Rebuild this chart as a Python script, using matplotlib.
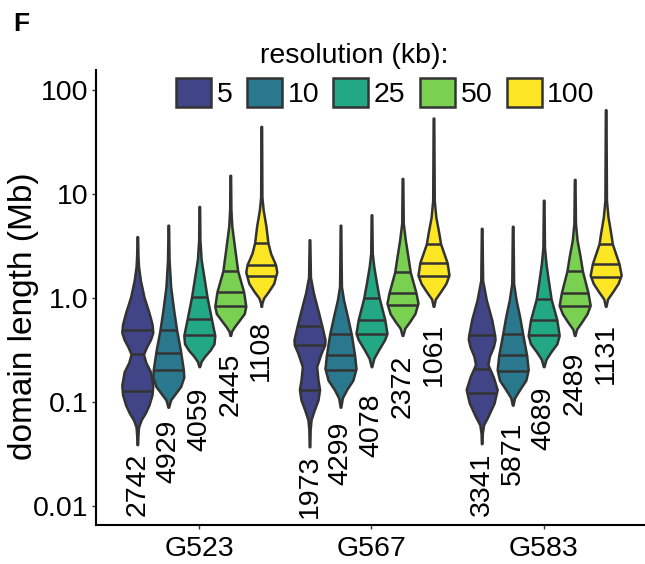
import numpy as np
import matplotlib.pyplot as plt
from matplotlib.patches import Patch

plt.rcParams["font.family"] = ["Liberation Sans", "DejaVu Sans"]

groups = ["G523", "G567", "G583"]
resolutions = ["5", "10", "25", "50", "100"]
colors = ["#414487", "#2A788E", "#22A884", "#7AD151", "#FDE725"]

# number of domains per violin
counts_g523 = [2742, 4929, 4059, 2445, 1108]
counts_g567 = [1973, 4299, 4078, 2372, 1061]
counts_g583 = [3341, 5871, 4689, 2489, 1131]

# violin outlines: log10(domain length, Mb) from max down to min, with relative density
levels_g523 = [
    [0.59, 0.41, 0.30, 0.17, 0.01, -0.14, -0.25, -0.33, -0.40, -0.47, -0.54, -0.62, -0.71, -0.84, -0.93, -1.03, -1.11, -1.17, -1.24, -1.32, -1.41],
    [0.70, 0.56, 0.37, 0.11, -0.12, -0.31, -0.50, -0.69, -0.76, -0.85, -0.92, -0.98, -1.05],
    [0.88, 0.56, 0.37, 0.20, 0.01, -0.20, -0.36, -0.44, -0.50, -0.56, -0.61, -0.66],
    [1.18, 0.85, 0.69, 0.46, 0.26, 0.06, -0.08, -0.15, -0.21, -0.28, -0.32, -0.36],
    [1.65, 0.97, 0.85, 0.69, 0.53, 0.43, 0.32, 0.25, 0.14, 0.06, 0.00, -0.05, -0.08],
]
density_g523 = [
    [0.02, 0.04, 0.08, 0.2, 0.43, 0.75, 0.95, 1.0, 0.85, 0.6, 0.4, 0.55, 0.85, 1.0, 0.95, 0.75, 0.5, 0.25, 0.08, 0.04, 0.02],
    [0.02, 0.03, 0.05, 0.15, 0.35, 0.54, 0.78, 0.97, 1.0, 0.8, 0.45, 0.15, 0.02],
    [0.02, 0.04, 0.12, 0.3, 0.5, 0.78, 1.0, 0.95, 0.7, 0.35, 0.12, 0.02],
    [0.02, 0.04, 0.1, 0.3, 0.48, 0.86, 1.0, 0.9, 0.6, 0.25, 0.08, 0.02],
    [0.02, 0.04, 0.12, 0.3, 0.43, 0.6, 0.92, 1.0, 0.8, 0.45, 0.15, 0.04, 0.02],
]
levels_g567 = [
    [0.56, 0.20, 0.05, -0.15, -0.27, -0.40, -0.45, -0.53, -0.66, -0.79, -0.88, -0.98, -1.08, -1.17, -1.27, -1.43],
    [0.70, 0.37, 0.11, -0.02, -0.18, -0.35, -0.55, -0.68, -0.79, -0.88, -0.96, -1.05],
    [0.80, 0.43, 0.30, 0.14, 0.00, -0.21, -0.34, -0.40, -0.50, -0.58, -0.66],
    [1.15, 0.72, 0.56, 0.40, 0.25, 0.05, -0.05, -0.15, -0.23, -0.29, -0.36],
    [1.73, 0.94, 0.78, 0.62, 0.52, 0.34, 0.22, 0.14, 0.06, -0.01, -0.08],
]
density_g567 = [
    [0.02, 0.06, 0.25, 0.6, 0.8, 1.0, 0.98, 0.75, 0.46, 0.55, 0.65, 0.55, 0.3, 0.1, 0.04, 0.02],
    [0.02, 0.04, 0.06, 0.2, 0.45, 0.7, 0.91, 1.0, 0.8, 0.4, 0.12, 0.02],
    [0.02, 0.05, 0.15, 0.33, 0.5, 0.86, 1.0, 0.85, 0.45, 0.15, 0.02],
    [0.02, 0.05, 0.18, 0.35, 0.5, 0.87, 1.0, 0.8, 0.45, 0.15, 0.02],
    [0.02, 0.05, 0.15, 0.35, 0.46, 0.88, 1.0, 0.8, 0.45, 0.12, 0.02],
]
levels_g583 = [
    [0.67, 0.17, -0.02, -0.21, -0.36, -0.40, -0.47, -0.56, -0.64, -0.76, -0.88, -1.01, -1.14, -1.22, -1.30, -1.40],
    [0.69, 0.41, 0.14, -0.02, -0.18, -0.35, -0.55, -0.69, -0.79, -0.88, -0.96, -1.03],
    [0.94, 0.49, 0.33, 0.17, -0.01, -0.21, -0.36, -0.44, -0.52, -0.59, -0.66],
    [1.14, 0.72, 0.56, 0.40, 0.26, 0.05, -0.07, -0.15, -0.23, -0.30, -0.36],
    [1.81, 0.94, 0.78, 0.62, 0.52, 0.33, 0.22, 0.14, 0.06, -0.01, -0.08],
]
density_g583 = [
    [0.02, 0.06, 0.3, 0.65, 0.84, 0.86, 0.75, 0.5, 0.4, 0.75, 1.0, 0.8, 0.4, 0.12, 0.04, 0.02],
    [0.02, 0.04, 0.06, 0.22, 0.45, 0.65, 0.9, 1.0, 0.85, 0.45, 0.12, 0.02],
    [0.02, 0.05, 0.15, 0.3, 0.48, 0.85, 1.0, 0.85, 0.45, 0.15, 0.02],
    [0.02, 0.05, 0.15, 0.35, 0.5, 0.86, 1.0, 0.8, 0.45, 0.12, 0.02],
    [0.02, 0.05, 0.15, 0.33, 0.43, 0.86, 1.0, 0.8, 0.45, 0.12, 0.02],
]

# quartiles (log10 Mb): Q3, median, Q1
quartiles_g523 = [[-0.31, -0.54, -0.89], [-0.31, -0.53, -0.69], [0.01, -0.20, -0.36], [0.26, 0.06, -0.08], [0.53, 0.32, 0.21]]
quartiles_g567 = [[-0.27, -0.45, -0.88], [-0.35, -0.55, -0.69], [0.00, -0.21, -0.35], [0.25, 0.05, -0.07], [0.52, 0.34, 0.21]]
quartiles_g583 = [[-0.36, -0.68, -0.91], [-0.35, -0.55, -0.70], [-0.01, -0.21, -0.36], [0.26, 0.05, -0.08], [0.52, 0.33, 0.20]]

# where the count labels end (log10 Mb)
label_at_g523 = [-1.49, -1.17, -0.86, -0.53, -0.21]
label_at_g567 = [-1.51, -1.19, -0.92, -0.55, -0.24]
label_at_g583 = [-1.49, -1.19, -0.85, -0.52, -0.24]

all_levels = [levels_g523, levels_g567, levels_g583]
all_density = [density_g523, density_g567, density_g583]
all_quart = [quartiles_g523, quartiles_g567, quartiles_g583]
all_counts = [counts_g523, counts_g567, counts_g583]
all_label_at = [label_at_g523, label_at_g567, label_at_g583]

FS = 20.5
EDGE = "#333333"
dodge = 0.18

fig = plt.figure(figsize=(6.45, 5.64), dpi=100)
ax = fig.add_axes([0.1488, 0.0691, 0.8543, 0.8067])
ax.set_yscale("log")

for g in range(len(groups)):
    vpstats = []
    positions = []
    for r in range(len(resolutions)):
        lv = np.array(all_levels[g][r])
        coords = 10 ** lv
        vpstats.append({"coords": coords, "vals": np.array(all_density[g][r]),
                        "mean": 10 ** np.mean(lv), "median": 10 ** all_quart[g][r][1],
                        "min": coords.min(), "max": coords.max()})
        positions.append(g + 1 + (r - 2) * dodge)
    parts = ax.violin(vpstats, positions=positions, widths=dodge,
                      showmeans=False, showextrema=False, showmedians=False)
    for r, body in enumerate(parts["bodies"]):
        body.set_facecolor(colors[r])
        body.set_edgecolor(EDGE)
        body.set_linewidth(1.8)
        body.set_alpha(1)
        body.set_zorder(2)
        lv = np.array(all_levels[g][r])
        dens = np.array(all_density[g][r])
        for q in all_quart[g][r]:
            hw = 0.5 * dodge * np.interp(q, lv[::-1], dens[::-1])
            ax.hlines(10 ** q, positions[r] - hw, positions[r] + hw,
                      color=EDGE, lw=1.8, zorder=3)
        ax.text(positions[r], 10 ** all_label_at[g][r], str(all_counts[g][r]),
                rotation=90, ha="center", va="top", fontsize=FS, color="black")

ax.set_xlim(0.4, 3.6)
ax.set_ylim(10 ** -2.183, 10 ** 2.192)
ax.set_xticks([1, 2, 3])
ax.set_xticklabels(groups)
ax.set_yticks([0.01, 0.1, 1, 10, 100])
ax.set_yticklabels(["0.01", "0.1", "1.0", "10", "100"])
ax.minorticks_off()
ax.tick_params(labelsize=FS, color=EDGE, width=1, length=3)
ax.tick_params(axis="x", pad=5)
ax.tick_params(axis="y", pad=2.5)
ax.set_ylabel("domain length (Mb)", fontsize=24)
ax.yaxis.set_label_coords(-0.104, 0.46)
for s in ["top", "right"]:
    ax.spines[s].set_visible(False)
for s in ["left", "bottom"]:
    ax.spines[s].set_linewidth(1.5)

handles = [Patch(facecolor=c, edgecolor=EDGE, linewidth=1.8) for c in colors]
fig.legend(handles, resolutions, ncol=5, loc="center", bbox_to_anchor=(0.5975, 0.8345),
           frameon=False, fontsize=FS, handlelength=1.23, handleheight=1.16,
           handletextpad=0.2, columnspacing=0.5, borderpad=0, borderaxespad=0)
fig.text(0.5496, 0.9007, "resolution (kb):", ha="center", va="center", fontsize=FS)
fig.text(0.02, 0.978, "F", ha="left", va="top", fontsize=19, fontweight="bold")

fig.savefig("out.png", dpi=100)
